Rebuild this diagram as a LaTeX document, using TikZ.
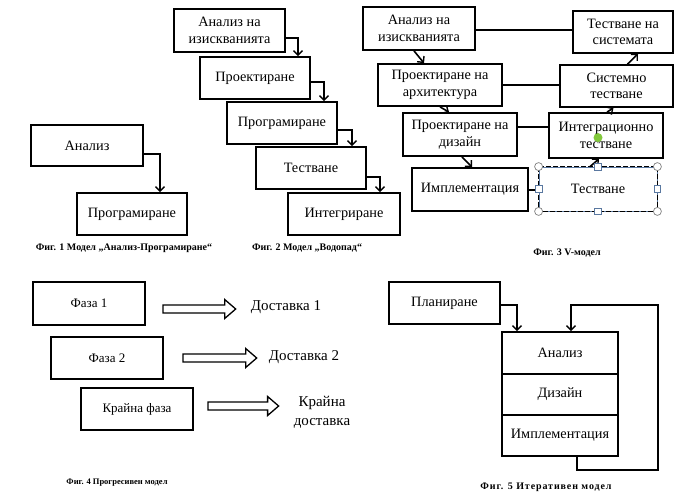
\documentclass[tikz,border=0pt]{standalone}
\usepackage{fontspec}
\setmainfont{Liberation Serif}
\usetikzlibrary{arrows.meta,calc}
\definecolor{hblue}{RGB}{90,120,160}
\definecolor{hgreen}{RGB}{130,200,60}
\newcommand\blkarrow[2]{%
  \path[blk] let \p1=(#1), \p2=(#2) in
  (\x1,{\y1+4pt}) -- ({\x2-11pt},{\y1+4pt}) -- ({\x2-11pt},{\y1+9.5pt}) -- (\x2,\y1)
  -- ({\x2-11pt},{\y1-9.5pt}) -- ({\x2-11pt},{\y1-4pt}) -- (\x1,{\y1-4pt}) -- cycle;}
\begin{document}
\begin{tikzpicture}[x=1pt,y=-1pt,
  box/.style={draw,line width=1.8pt,fill=white,inner sep=1pt,align=center,
    font=\fontsize{14.3}{16.5}\selectfont},
  arr/.style={line width=1.6pt,-{Straight Barb[length=4.5pt,width=9pt,line width=1.4pt]}},
  ln/.style={line width=1.6pt},
  figcap/.style={font=\bfseries\fontsize{10}{11}\selectfont,inner sep=0pt},
  blk/.style={draw,line width=1.3pt,fill=white},
  txt/.style={font=\fontsize{15}{19}\selectfont,align=center,inner sep=0pt},
  hcirc/.style={draw=gray,fill=white,line width=0.7pt},
  hsq/.style={draw=hblue,fill=white,line width=0.7pt,minimum size=6.5pt,inner sep=0pt}
]
\useasboundingbox[fill=white] (0,0) rectangle (674,492);

% ---------- Fig 1 ----------
\node[box,minimum width=112,minimum height=41] (a1) at (87,145.5) {Анализ};
\node[box,minimum width=110,minimum height=42] (p1) at (132,214) {Програмиране};
\draw[arr] ([yshift=-8.5pt]a1.east) -| ([xshift=28pt]p1.north);
\node[figcap] (c1) at (124,248) {Фиг. 1 Модел „Анализ-Програмиране“};

% ---------- Fig 2 ----------
\node[box,minimum width=111,minimum height=43] (w1) at (229.5,30.5) {Анализ на\\изискванията};
\node[box,minimum width=110,minimum height=42] (w2) at (255,78) {Проектиране};
\node[box,minimum width=110,minimum height=42] (w3) at (282,123) {Програмиране};
\node[box,minimum width=110,minimum height=42] (w4) at (311,168) {Тестване};
\node[box,minimum width=112,minimum height=42] (w5) at (344,214) {Интегриране};
\draw[arr] ([yshift=-7.5pt]w1.east) -| ([xshift=43pt]w2.north);
\draw[arr] ([yshift=-4pt]w2.east) -| ([xshift=42pt]w3.north);
\draw[arr] ([yshift=-7pt]w3.east) -| ([xshift=41pt]w4.north);
\draw[arr] ([yshift=-9pt]w4.east) -| ([xshift=36pt]w5.north);
\node[figcap] (c2) at (307,248) {Фиг. 2 Модел „Водопад“};

% ---------- Fig 3 ----------
\node[box,minimum width=112,minimum height=43] (v1) at (419,28.5) {Анализ на\\изискванията};
\node[box,minimum width=100,minimum height=42] (v8) at (623,32) {Тестване на\\системата};
\node[box,minimum width=124,minimum height=42] (v2) at (440,85) {Проектиране на\\архитектура};
\node[box,minimum width=113,minimum height=42] (v7) at (616.5,86) {Системно\\тестване};
\node[box,minimum width=114,minimum height=43] (v3) at (460,134.5) {Проектиране на\\дизайн};
\node[box,minimum width=114,minimum height=45] (v6) at (606,135.5) {Интеграционно\\тестване};
\node[box,minimum width=116,minimum height=43] (v4) at (470,189.5) {Имплементация};
\node[box,draw=hblue,line width=0.8pt,minimum width=118,minimum height=44] (v5) at (598,189) {Тестване};
\draw[line width=1.4pt,dash pattern=on 5pt off 2pt] (v5.north west) rectangle (v5.south east);
\draw[ln] ([yshift=-1.5pt]v1.east) -- ([yshift=-1.5pt]v1.east -| v8.west);
\draw[ln] (v2.east) -- (v2.east -| v7.west);
\draw[ln] ([yshift=7.5pt]v3.east) -- ([yshift=7.5pt]v3.east -| v6.west);
\draw[ln] ([yshift=-0.5pt]v4.east) -- ([yshift=-0.5pt]v4.east -| v5.west);
\draw[arr] ([xshift=-5pt]v1.south) -- ([xshift=-16pt]v2.north);
\draw[arr] ([xshift=0pt]v2.south) -- ([xshift=-11pt]v3.north);
\draw[arr] ([xshift=2pt]v3.south) -- ([xshift=2pt]v4.north);
\draw[arr] ([xshift=-8pt]v5.north) -- ([xshift=-7pt]v6.south);
\draw[arr] ([xshift=1pt]v6.north) -- ([xshift=-3pt]v7.south);
\draw[arr] ([xshift=11pt]v7.north) -- ([xshift=15pt]v8.south);
\foreach \a in {north west,north east,south west,south east}
  \draw[hcirc] (v5.\a) circle (4);
\foreach \a in {north,south,east,west}
  \node[hsq] at (v5.\a) {};
\fill[hgreen] ([yshift=29pt]v5.north) circle (4.5);
\node[figcap] (c3) at (567,253) {Фиг. 3 V-модел};

% ---------- Fig 4 ----------
\node[box,font=\fontsize{13}{16}\selectfont,minimum width=112,minimum height=43] (f1) at (89,303.5) {Фаза 1};
\node[box,font=\fontsize{13}{16}\selectfont,minimum width=112,minimum height=42] (f2) at (107,358) {Фаза 2};
\node[box,font=\fontsize{13}{16}\selectfont,minimum width=112,minimum height=42] (f3) at (137,409) {Крайна фаза};
\node[txt] (d1) at (286,307) {Доставка 1};
\node[txt] (d2) at (304,357) {Доставка 2};
\node[txt] (d3) at (322,412) {Крайна\\доставка};
\blkarrow{[xshift=17pt,yshift=-5.5pt]f1.east}{[xshift=-15pt]d1.west}
\blkarrow{[xshift=19pt,yshift=0pt]f2.east}{[xshift=-12pt]d2.west}
\blkarrow{[xshift=14pt,yshift=3pt]f3.east}{[xshift=-15pt]d3.west}
\node[figcap,font=\bfseries\fontsize{8.5}{10}\selectfont] (c4) at (117,483) {Фиг. 4 Прогресивен модел};

% ---------- Fig 5 ----------
\node[box,minimum width=111,minimum height=42] (pl) at (444.5,303) {Планиране};
\node[box,minimum width=116,minimum height=42] (s1) at (560,353) {Анализ};
\node[box,minimum width=116,minimum height=41] (s2) at (560,394.5) {Дизайн};
\node[box,minimum width=116,minimum height=41] (s3) at (560,435.5) {Имплементация};
\coordinate (lp) at (658,305);
\draw[arr] ([yshift=-2pt]pl.east) -| ([xshift=-43pt]s1.north);
\draw[arr] ([xshift=17pt]s3.south) -- ++(0,13) -| (lp) -| ([xshift=11pt]s1.north);
\node[figcap,font=\bfseries\fontsize{10}{11}\selectfont\addfontfeature{LetterSpace=9}] (c5) at (546,487) {Фиг. 5 Итеративен модел};
\end{tikzpicture}
\end{document}
